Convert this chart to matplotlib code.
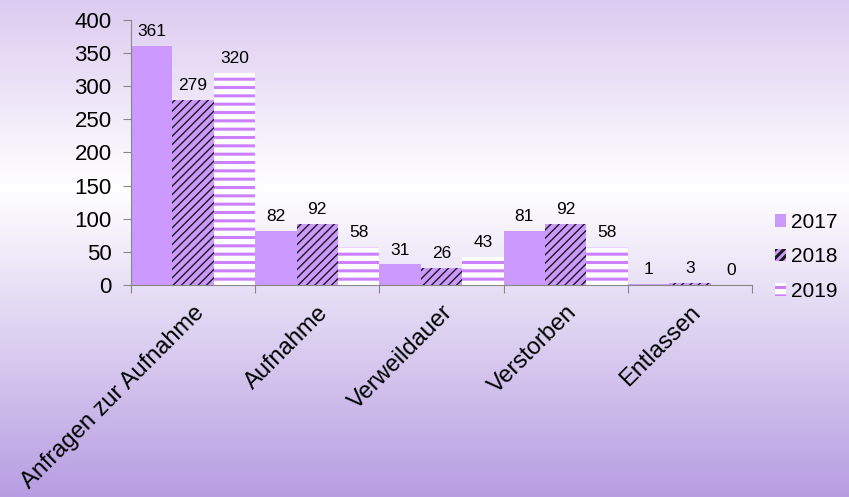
import numpy as np
import matplotlib
matplotlib.use("Agg")
import matplotlib.pyplot as plt

plt.rcParams['font.family'] = ['Liberation Sans', 'DejaVu Sans']

categories = ["Anfragen zur Aufnahme", "Aufnahme", "Verweildauer", "Verstorben", "Entlassen"]
years = ["2017", "2018", "2019"]
v2017 = [361, 82, 31, 81, 1]
v2018 = [279, 92, 26, 92, 3]
v2019 = [320, 58, 43, 58, 0]

purple = '#CC99FF'
stripe = '#CC80FF'

fig = plt.figure(figsize=(8.49, 4.97), dpi=100)

# gradient background
bg = fig.add_axes([0, 0, 1, 1], zorder=0)
stops = np.array([0.0, 0.38, 1.0])
cols = np.array([[220, 203, 240], [255, 255, 255], [183, 158, 226]]) / 255.0
t = np.linspace(0, 1, 400)
grad = np.stack([np.interp(t, stops, cols[:, k]) for k in range(3)], axis=1)
bg.imshow(grad[:, None, :], aspect='auto', extent=[0, 1, 0, 1])
bg.axis('off')

ax = fig.add_axes([131 / 849, 1 - 285 / 497, (752 - 131) / 849, (285 - 20) / 497], zorder=1)
ax.patch.set_alpha(0)

x = np.arange(len(categories))
w = 1 / 3

plt.rcParams['hatch.linewidth'] = 0
b1 = ax.bar(x - w, v2017, w, color=purple, linewidth=0, label=years[0])
plt.rcParams['hatch.linewidth'] = 1.0
b2 = ax.bar(x, v2018, w, color=purple, edgecolor='#1a1a1a', hatch='////', linewidth=0, label=years[1])
plt.rcParams['hatch.linewidth'] = 2.2
b3 = ax.bar(x + w, v2019, w, color='white', edgecolor=stripe, hatch='--', linewidth=0, label=years[2])

for b in (b1, b2, b3):
    ax.bar_label(b, padding=5, fontsize=12.5)

ax.set_xlim(-0.5, len(categories) - 0.5)
ax.set_ylim(0, 400)
ax.set_yticks(range(0, 401, 50))
ax.tick_params(axis='y', labelsize=16, length=6, color='#888888', pad=8)
ax.set_xticks(np.arange(-0.5, len(categories), 1))
ax.set_xticklabels([])
ax.tick_params(axis='x', which='major', length=6, color='#888888', direction='out')
ax.set_xticks(x, minor=True)
ax.set_xticklabels(categories, minor=True, rotation=45, ha='right', rotation_mode='anchor', fontsize=17)
ax.tick_params(axis='x', which='minor', length=0, pad=12)

for s in ['top', 'right']:
    ax.spines[s].set_visible(False)
for s in ['left', 'bottom']:
    ax.spines[s].set_color('#888888')

fig.legend(handles=[b1, b2, b3], loc='center left', bbox_to_anchor=(756 / 849, 1 - 257 / 497),
           frameon=False, fontsize=15, handlelength=0.55, handleheight=0.55,
           handletextpad=0.25, labelspacing=0.75)

fig.savefig("out.png", dpi=100)
